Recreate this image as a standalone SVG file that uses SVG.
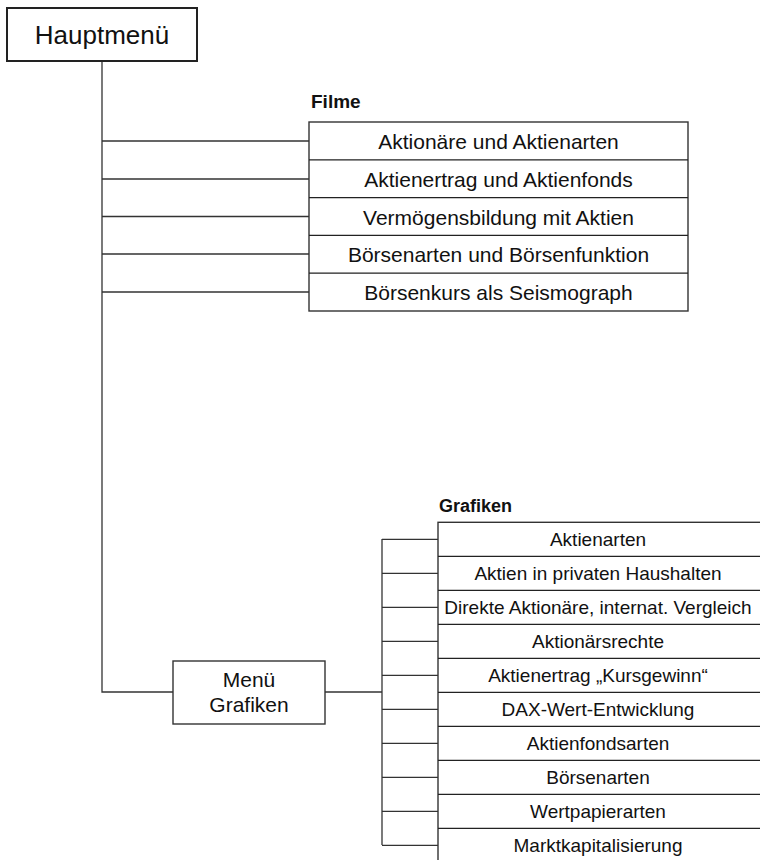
<svg xmlns="http://www.w3.org/2000/svg" width="760" height="860" viewBox="0 0 760 860">
<style>
text{font-family:"Liberation Sans",Arial,sans-serif;fill:#111;text-anchor:middle}
.box{fill:#fff;stroke:#333;stroke-width:1.4}
.sep{stroke:#222;stroke-width:1.3}
.con{stroke:#333;stroke-width:1.3;fill:none}
.f{font-size:21px}
.g{font-size:19px}
.lbl{font-weight:bold;text-anchor:start}
</style>
<rect width="760" height="860" fill="#fff"/>
<g id="connectors">
<path class="con" d="M102 61V692H173" stroke-width="2"/>
<path class="con" d="M102 141H309M102 179H309M102 216.5H309M102 254H309M102 292H309"/>
<path class="con" d="M325 692H382" stroke-width="2.2"/>
<path class="con" d="M382 539V845"/>
<path class="con" d="M382 539.3H438M382 573.3H438M382 607.3H438M382 641.3H438M382 675.3H438M382 709.3H438M382 743.3H438M382 777.3H438M382 811.3H438M382 845.3H438"/>
</g>
<g id="hauptmenue">
<rect x="7" y="8" width="190" height="53" fill="#fff" stroke="#222" stroke-width="2"/>
<text x="102" y="44" font-size="26">Hauptmenü</text>
</g>
<g id="filme">
<text class="lbl" x="311" y="108" font-size="19">Filme</text>
<rect class="box" x="309" y="122" width="379" height="189"/>
<path class="sep" d="M309 159.8H688M309 197.6H688M309 235.4H688M309 273.2H688"/>
<text class="f" x="498.5" y="149">Aktionäre und Aktienarten</text>
<text class="f" x="498.5" y="187">Aktienertrag und Aktienfonds</text>
<text class="f" x="498.5" y="224.5">Vermögensbildung mit Aktien</text>
<text class="f" x="498.5" y="262">Börsenarten und Börsenfunktion</text>
<text class="f" x="498.5" y="300">Börsenkurs als Seismograph</text>
</g>
<g id="menue-grafiken">
<rect class="box" x="173" y="661" width="152" height="63"/>
<text class="f" x="249" y="687">Menü</text>
<text class="f" x="249" y="712">Grafiken</text>
</g>
<g id="grafiken">
<text class="lbl" x="439" y="512" font-size="18">Grafiken</text>
<rect class="box" x="438" y="522.3" width="324" height="340"/>
<path class="sep" d="M438 556.3H762M438 590.3H762M438 624.3H762M438 658.3H762M438 692.3H762M438 726.3H762M438 760.3H762M438 794.3H762M438 828.3H762"/>
<text class="g" x="598" y="546">Aktienarten</text>
<text class="g" x="598" y="580">Aktien in privaten Haushalten</text>
<text class="g" x="598" y="614">Direkte Aktionäre, internat. Vergleich</text>
<text class="g" x="598" y="648">Aktionärsrechte</text>
<text class="g" x="598" y="682">Aktienertrag „Kursgewinn“</text>
<text class="g" x="598" y="716">DAX-Wert-Entwicklung</text>
<text class="g" x="598" y="750">Aktienfondsarten</text>
<text class="g" x="598" y="784">Börsenarten</text>
<text class="g" x="598" y="818">Wertpapierarten</text>
<text class="g" x="598" y="852">Marktkapitalisierung</text>
</g>
</svg>
